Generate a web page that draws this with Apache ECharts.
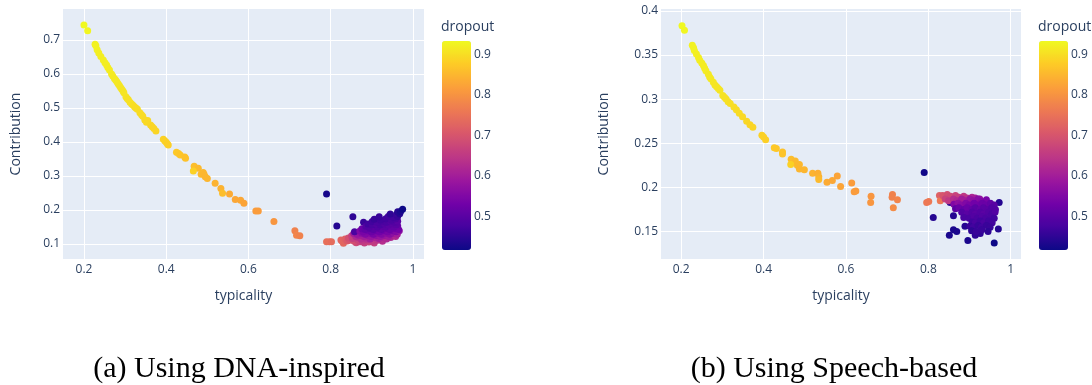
<!DOCTYPE html>
<html>
<head>
<meta charset="utf-8">
<script src="https://cdn.jsdelivr.net/npm/echarts@6/dist/echarts.min.js"></script>
<style>
  html, body { margin: 0; padding: 0; background: #fff; }
  #chart { width: 1092px; height: 385px; }
</style>
</head>
<body>
<div id="chart"></div>
<script>
// [typicality, contribution, dropout]
const dnaCurve = [
  [0.200,0.744,0.934],[0.209,0.727,0.930],[0.227,0.687,0.925],[0.229,0.683,0.925],
  [0.232,0.671,0.925],[0.236,0.662,0.922],[0.241,0.651,0.920],[0.247,0.641,0.920],
  [0.251,0.633,0.920],[0.255,0.626,0.920],[0.258,0.619,0.918],[0.262,0.612,0.918],
  [0.267,0.600,0.918],[0.270,0.594,0.916],[0.274,0.587,0.915],[0.277,0.582,0.915],
  [0.280,0.577,0.915],[0.283,0.571,0.913],[0.286,0.566,0.912],[0.289,0.560,0.911],
  [0.292,0.555,0.910],[0.295,0.550,0.910],[0.297,0.545,0.910],[0.302,0.533,0.908],
  [0.305,0.528,0.906],[0.308,0.524,0.905],[0.312,0.517,0.905],[0.316,0.512,0.905],
  [0.320,0.507,0.902],[0.324,0.502,0.900],[0.327,0.499,0.900],[0.330,0.496,0.900],
  [0.336,0.486,0.899],[0.340,0.480,0.898],[0.343,0.476,0.898],[0.348,0.465,0.895],
  [0.352,0.458,0.895],[0.355,0.463,0.895],[0.362,0.450,0.892],[0.366,0.445,0.890],
  [0.370,0.440,0.890],[0.375,0.432,0.890],[0.393,0.408,0.885],[0.397,0.403,0.885],
  [0.400,0.399,0.885],[0.403,0.394,0.883],[0.405,0.391,0.882],[0.425,0.370,0.875],
  [0.430,0.366,0.872],[0.434,0.362,0.870],[0.445,0.356,0.866],[0.447,0.352,0.865],
  [0.468,0.329,0.860],[0.478,0.323,0.855],[0.466,0.315,0.885],[0.485,0.305,0.855],
  [0.490,0.310,0.852],[0.492,0.305,0.850],[0.495,0.298,0.850],[0.500,0.293,0.850],
  [0.519,0.279,0.845],[0.533,0.263,0.845],[0.537,0.249,0.860],[0.554,0.247,0.835],
  [0.568,0.231,0.830],[0.581,0.229,0.830],[0.589,0.220,0.825],[0.618,0.197,0.815],
  [0.624,0.197,0.815],[0.662,0.166,0.805],[0.713,0.139,0.775],[0.717,0.126,0.780],
  [0.725,0.124,0.775]
];

const dnaCluster = [
  [0.790,0.247,0.425],[0.815,0.153,0.440],[0.854,0.180,0.450],[0.880,0.164,0.460],
  [0.790,0.107,0.745],[0.797,0.107,0.745],[0.802,0.107,0.740],[0.825,0.112,0.730],
  [0.831,0.102,0.735],[0.828,0.108,0.730],[0.835,0.115,0.720],[0.840,0.109,0.710],
  [0.862,0.104,0.680],[0.871,0.107,0.670],[0.882,0.103,0.660],[0.893,0.106,0.670],[0.906,0.103,0.660],
  [0.846,0.111,0.700],[0.857,0.108,0.690],[0.866,0.112,0.670],[0.877,0.109,0.650],
  [0.889,0.112,0.640],[0.901,0.109,0.650],[0.914,0.111,0.640],[0.926,0.108,0.630],
  [0.843,0.118,0.690],[0.853,0.116,0.660],[0.866,0.119,0.640],[0.874,0.115,0.630],
  [0.886,0.118,0.620],[0.896,0.115,0.600],[0.906,0.119,0.610],[0.917,0.116,0.600],
  [0.924,0.119,0.610],[0.936,0.115,0.620],[0.946,0.119,0.620],
  [0.851,0.124,0.660],[0.861,0.122,0.620],[0.869,0.125,0.600],[0.881,0.122,0.600],
  [0.891,0.125,0.580],[0.899,0.122,0.580],[0.911,0.125,0.570],[0.921,0.122,0.580],
  [0.931,0.125,0.580],[0.941,0.122,0.590],[0.951,0.125,0.600],[0.958,0.122,0.620],
  [0.856,0.131,0.600],[0.864,0.129,0.580],[0.876,0.132,0.560],[0.884,0.129,0.550],
  [0.896,0.132,0.550],[0.904,0.129,0.540],[0.916,0.132,0.550],[0.924,0.129,0.550],
  [0.936,0.132,0.560],[0.944,0.129,0.560],[0.954,0.132,0.570],[0.962,0.129,0.600],
  [0.858,0.136,0.480],[0.871,0.138,0.550],[0.879,0.136,0.540],[0.891,0.139,0.530],
  [0.899,0.136,0.520],[0.911,0.139,0.520],[0.919,0.136,0.530],[0.931,0.139,0.530],
  [0.939,0.136,0.540],[0.951,0.139,0.540],[0.959,0.136,0.550],[0.967,0.139,0.570],
  [0.876,0.145,0.520],[0.884,0.143,0.510],[0.896,0.146,0.500],[0.904,0.143,0.500],
  [0.916,0.146,0.510],[0.924,0.143,0.510],[0.936,0.146,0.520],[0.944,0.143,0.520],
  [0.956,0.146,0.530],[0.965,0.143,0.530],
  [0.886,0.152,0.490],[0.894,0.150,0.490],[0.906,0.153,0.500],[0.914,0.150,0.490],
  [0.926,0.153,0.500],[0.934,0.150,0.500],[0.946,0.153,0.510],[0.954,0.150,0.510],
  [0.963,0.153,0.520],
  [0.891,0.159,0.470],[0.901,0.157,0.480],[0.911,0.160,0.490],[0.921,0.157,0.480],
  [0.931,0.160,0.490],[0.941,0.157,0.500],[0.951,0.160,0.500],[0.960,0.157,0.500],
  [0.901,0.166,0.470],[0.913,0.164,0.480],[0.926,0.167,0.480],[0.936,0.164,0.480],
  [0.946,0.167,0.490],[0.956,0.164,0.490],[0.963,0.167,0.500],
  [0.906,0.173,0.460],[0.921,0.171,0.470],[0.934,0.174,0.470],[0.948,0.171,0.480],
  [0.958,0.174,0.480],
  [0.918,0.180,0.460],[0.940,0.181,0.470],[0.953,0.179,0.470],[0.963,0.181,0.460],
  [0.945,0.188,0.450],[0.960,0.187,0.460],[0.968,0.189,0.440],
  [0.963,0.195,0.440],[0.970,0.196,0.430],[0.975,0.202,0.416]
];

const speechCurve = [
  [0.202,0.383,0.934],[0.208,0.378,0.930],[0.227,0.361,0.925],[0.230,0.358,0.925],
  [0.232,0.355,0.925],[0.237,0.351,0.922],[0.242,0.347,0.920],[0.245,0.344,0.920],
  [0.250,0.341,0.919],[0.254,0.338,0.918],[0.257,0.335,0.918],[0.260,0.332,0.918],
  [0.266,0.328,0.915],[0.269,0.325,0.915],[0.272,0.323,0.915],[0.278,0.319,0.912],
  [0.282,0.316,0.911],[0.286,0.314,0.910],[0.290,0.312,0.910],[0.294,0.310,0.910],
  [0.301,0.304,0.908],[0.305,0.302,0.906],[0.309,0.300,0.905],[0.314,0.297,0.904],
  [0.319,0.295,0.902],[0.328,0.291,0.900],[0.334,0.288,0.899],[0.341,0.284,0.898],
  [0.349,0.280,0.895],[0.359,0.275,0.892],[0.367,0.271,0.890],[0.374,0.268,0.890],
  [0.396,0.259,0.885],[0.400,0.257,0.885],[0.405,0.254,0.882],[0.426,0.245,0.875],
  [0.431,0.244,0.872],[0.446,0.240,0.866],[0.446,0.238,0.868],[0.467,0.232,0.860],
  [0.477,0.230,0.855],[0.466,0.226,0.885],[0.482,0.225,0.855],[0.487,0.226,0.852],
  [0.487,0.221,0.850],[0.499,0.220,0.850],[0.519,0.216,0.845],[0.532,0.216,0.840],
  [0.534,0.212,0.845],[0.534,0.209,0.855],[0.554,0.206,0.835],[0.567,0.208,0.830],
  [0.579,0.213,0.825],[0.587,0.201,0.825],[0.614,0.205,0.815],[0.620,0.195,0.815],
  [0.624,0.196,0.815],[0.661,0.190,0.805],[0.660,0.183,0.805],[0.713,0.192,0.775],
  [0.712,0.189,0.775],[0.725,0.186,0.780],[0.715,0.177,0.790]
];

const speechCluster = [
  [0.790,0.217,0.420],[0.812,0.166,0.440],[0.861,0.168,0.440],[0.861,0.152,0.430],
  [0.869,0.150,0.430],[0.851,0.146,0.430],[0.889,0.156,0.440],[0.896,0.140,0.430],
  [0.960,0.137,0.416],[0.970,0.153,0.440],[0.972,0.183,0.440],[0.853,0.183,0.440],
  [0.914,0.146,0.450],[0.926,0.148,0.450],
  [0.796,0.183,0.760],[0.801,0.184,0.760],[0.827,0.191,0.720],[0.829,0.185,0.760],
  [0.874,0.184,0.740],
  [0.835,0.191,0.700],[0.846,0.192,0.690],[0.854,0.190,0.680],[0.866,0.191,0.670],
  [0.874,0.189,0.660],[0.886,0.190,0.650],[0.894,0.188,0.640],[0.906,0.189,0.620],
  [0.914,0.188,0.600],[0.925,0.187,0.580],
  [0.841,0.187,0.670],[0.849,0.185,0.650],[0.861,0.187,0.630],[0.869,0.185,0.620],
  [0.881,0.187,0.600],[0.889,0.185,0.600],[0.901,0.187,0.580],[0.909,0.185,0.570],
  [0.921,0.187,0.560],[0.929,0.184,0.550],[0.941,0.186,0.540],
  [0.862,0.181,0.550],[0.872,0.182,0.570],[0.879,0.180,0.560],[0.891,0.182,0.550],
  [0.899,0.180,0.540],[0.911,0.182,0.530],[0.919,0.180,0.530],[0.931,0.182,0.520],
  [0.939,0.180,0.520],[0.951,0.182,0.510],[0.960,0.180,0.500],
  [0.866,0.176,0.500],[0.874,0.177,0.520],[0.886,0.175,0.510],[0.894,0.177,0.520],
  [0.906,0.175,0.510],[0.914,0.177,0.500],[0.926,0.175,0.510],[0.934,0.177,0.500],
  [0.946,0.175,0.500],[0.954,0.177,0.490],[0.963,0.175,0.490],
  [0.881,0.172,0.490],[0.894,0.170,0.500],[0.906,0.172,0.490],[0.914,0.170,0.500],
  [0.926,0.172,0.490],[0.934,0.170,0.500],[0.946,0.172,0.490],[0.954,0.170,0.480],
  [0.962,0.172,0.490],
  [0.886,0.166,0.480],[0.899,0.165,0.480],[0.911,0.167,0.490],[0.919,0.165,0.480],
  [0.931,0.167,0.490],[0.939,0.165,0.480],[0.951,0.167,0.480],[0.960,0.165,0.470],
  [0.906,0.161,0.470],[0.914,0.160,0.480],[0.926,0.162,0.470],[0.934,0.160,0.480],
  [0.946,0.162,0.470],[0.955,0.160,0.470],
  [0.901,0.156,0.460],[0.909,0.155,0.470],[0.921,0.157,0.460],[0.929,0.155,0.470],
  [0.941,0.157,0.460],[0.950,0.155,0.460],
  [0.905,0.151,0.450],[0.916,0.150,0.460],[0.930,0.152,0.460],[0.945,0.150,0.450]
];

const dnaXTicks = [0.2, 0.4, 0.6, 0.8, 1];
const dnaYTicks = [0.1, 0.2, 0.3, 0.4, 0.5, 0.6, 0.7];
const speechXTicks = [0.2, 0.4, 0.6, 0.8, 1];
const speechYTicks = [0.15, 0.2, 0.25, 0.3, 0.35, 0.4];
const dropoutTicks = [0.5, 0.6, 0.7, 0.8, 0.9];
const captions = ['(a) Using DNA-inspired', '(b) Using Speech-based'];

const plasma = ['#0d0887','#46039f','#7201a8','#9c179e','#bd3786','#d8576b','#ed7953','#fb9f3a','#fdca26','#f0f921'];
const ink = '#2a3f5f';
const font = 'Open Sans';

function valueAxis(idx, min, max, ticks, name, nameGap, isY) {
  return {
    type: 'value', gridIndex: idx, min: min, max: max,
    name: name, nameLocation: 'middle', nameGap: nameGap,
    nameTextStyle: { color: ink, fontSize: 14, fontFamily: font },
    axisLine: { show: false },
    axisTick: { show: false, customValues: ticks },
    axisLabel: { customValues: ticks, color: ink, fontSize: 12, fontFamily: font, margin: isY ? 3 : 5 },
    splitLine: { show: true, lineStyle: { color: '#fff', width: 1 } }
  };
}

function colorbarAxis(idx) {
  return {
    type: 'value', gridIndex: idx, position: 'right', min: 0.416, max: 0.934,
    axisLine: { show: false }, axisTick: { show: false, customValues: dropoutTicks },
    axisLabel: { customValues: dropoutTicks, color: ink, fontSize: 12, fontFamily: font, margin: 3 },
    splitLine: { show: false }
  };
}

let myChart = echarts.init(document.getElementById('chart'), null, { renderer: 'canvas' });
let option = {
  backgroundColor: '#fff',
  animation: false,
  grid: [
    { left: 63, top: 9, width: 361, height: 250, show: true, backgroundColor: '#E5ECF6', borderWidth: 0 },
    { left: 661, top: 9, width: 360, height: 250, show: true, backgroundColor: '#E5ECF6', borderWidth: 0 },
    { left: 442, top: 41, width: 29, height: 209 },
    { left: 1039, top: 41, width: 29, height: 209 }
  ],
  xAxis: [
    valueAxis(0, 0.149, 1.027, dnaXTicks, 'typicality', 30, false),
    valueAxis(1, 0.151, 1.025, speechXTicks, 'typicality', 30, false),
    { type: 'value', gridIndex: 2, show: false, min: 0, max: 1 },
    { type: 'value', gridIndex: 3, show: false, min: 0, max: 1 }
  ],
  yAxis: [
    valueAxis(0, 0.056, 0.791, dnaYTicks, 'Contribution', 40, true),
    valueAxis(1, 0.119, 0.402, speechYTicks, 'Contribution', 50, true),
    colorbarAxis(2),
    colorbarAxis(3)
  ],
  visualMap: [0, 1].map(i => ({
    type: 'continuous', seriesIndex: i, dimension: 2,
    min: 0.416, max: 0.934, calculable: false, hoverLink: false,
    left: i === 0 ? 442 : 1039, top: 41, padding: 0,
    itemWidth: 29, itemHeight: 209, text: null,
    inRange: { color: plasma }
  })),
  series: [
    { type: 'scatter', xAxisIndex: 0, yAxisIndex: 0, symbolSize: 7, itemStyle: { opacity: 1 }, data: dnaCurve.concat(dnaCluster) },
    { type: 'scatter', xAxisIndex: 1, yAxisIndex: 1, symbolSize: 7, itemStyle: { opacity: 1 }, data: speechCurve.concat(speechCluster) }
  ],
  graphic: [
    { type: 'text', x: 441, y: 27, style: { text: 'dropout', fill: ink, font: '14px "Open Sans"', verticalAlign: 'middle' } },
    { type: 'text', x: 1038, y: 27, style: { text: 'dropout', fill: ink, font: '14px "Open Sans"', verticalAlign: 'middle' } },
    { type: 'text', x: 239, y: 369, style: { text: captions[0], fill: '#000', font: '30px "Liberation Serif"', align: 'center', verticalAlign: 'middle' } },
    { type: 'text', x: 834, y: 369, style: { text: captions[1], fill: '#000', font: '30px "Liberation Serif"', align: 'center', verticalAlign: 'middle' } }
  ]
};
myChart.setOption(option);
</script>
</body>
</html>
